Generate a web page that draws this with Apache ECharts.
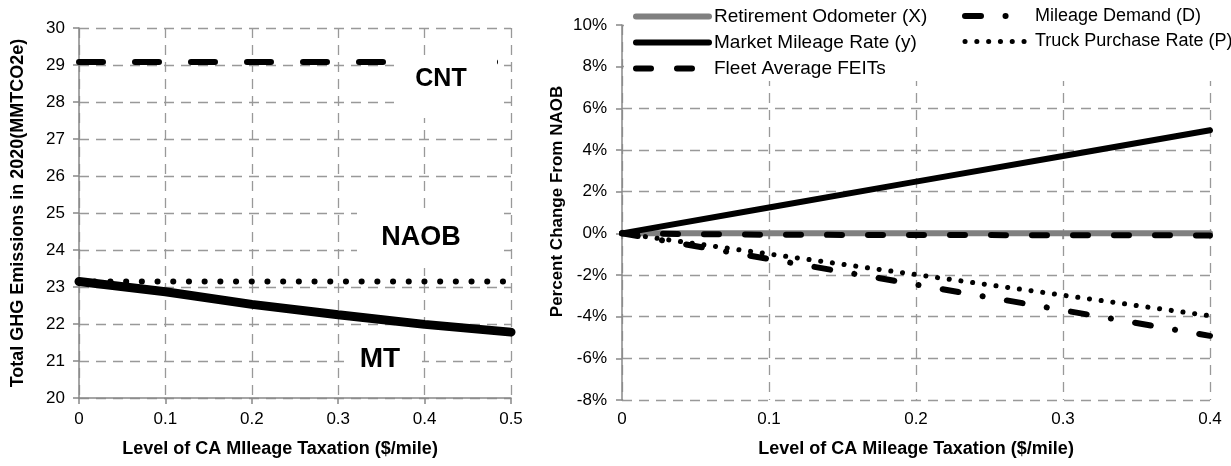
<!DOCTYPE html>
<html>
<head>
<meta charset="utf-8">
<script src="https://cdn.jsdelivr.net/npm/echarts@6/dist/echarts.min.js"></script>
<style>
  html, body { margin: 0; padding: 0; background: #fff; }
  #chart { width: 1231px; height: 466px; }
</style>
</head>
<body>
<div id="chart"></div>
<script>
// ===== Left panel data (MMTCO2e) =====
const taxLeft  = [0, 0.1, 0.2, 0.3, 0.4, 0.5];
const cntGhg   = [29.08, 29.08, 29.08, 29.08, 29.08, 29.08];
const naobGhg  = [23.15, 23.15, 23.15, 23.15, 23.15, 23.15];
const mtGhg    = [23.15, 22.87, 22.53, 22.25, 21.99, 21.78];
const ghgTicks = [20, 21, 22, 23, 24, 25, 26, 27, 28, 29, 30];

// ===== Right panel data (% change from NAOB) =====
const taxRight      = [0, 0.1, 0.2, 0.3, 0.4];
const retirementOdo = [0, 0, 0, 0, 0];
const marketRate    = [0, 1.24, 2.48, 3.71, 4.95];
const fleetFeits    = [0, -0.07, -0.08, -0.09, -0.1];
const mileageDemand = [0, -1.23, -2.46, -3.69, -4.92];
const truckPurchase = [0, -0.99, -1.98, -2.97, -3.96];
const pctTicks      = [-8, -6, -4, -2, 0, 2, 4, 6, 8, 10];

const FONT = 'Liberation Sans, Arial, sans-serif';
const pairs = (xs, ys) => xs.map((x, i) => [x, ys[i]]);

const axisLine  = { lineStyle: { color: '#888', width: 1.5 } };
const axisTick  = { length: 6, lineStyle: { color: '#888', width: 1.5 } };
const splitLine = { show: true, lineStyle: { color: '#999', width: 1.3, type: [10, 7] } };

const chart = echarts.init(document.getElementById('chart'));

// line series helper
function line(name, xi, yi, xs, ys, color, width, dash) {
  return {
    name, type: 'line', xAxisIndex: xi, yAxisIndex: yi,
    data: pairs(xs, ys), symbol: 'none', silent: true,
    itemStyle: { color },
    lineStyle: { color, width, type: dash || 'solid', cap: 'round' }
  };
}

// legend helper (line icon only, no symbol)
function legendBox(left, itemWidth, fontSize, itemGap, names) {
  return {
    left, top: 7, orient: 'vertical', itemGap, itemWidth, itemHeight: 14,
    padding: 0,
    textStyle: { fontSize, lineHeight: 18, color: '#000', fontFamily: FONT },
    itemStyle: { opacity: 0 },
    lineStyle: { width: 'inherit' },
    data: names
  };
}

const option = {
  animation: false,
  backgroundColor: '#fff',
  textStyle: { fontFamily: FONT },
  grid: [
    { left: 79, top: 28, width: 432, height: 370 },
    { left: 622, top: 25, width: 588, height: 375 }
  ],
  xAxis: [
    {
      type: 'value', gridIndex: 0,
      min: taxLeft[0], max: taxLeft[taxLeft.length - 1], interval: 0.1,
      name: 'Level of CA MIleage Taxation ($/mile)', nameLocation: 'middle', nameGap: 42,
      nameTextStyle: { fontSize: 18, fontWeight: 'bold', color: '#000', padding: [0, 30, 0, 0] },
      axisLine, axisTick, splitLine,
      axisLabel: { fontSize: 17, color: '#000', margin: 13 }
    },
    {
      type: 'value', gridIndex: 1,
      min: taxRight[0], max: taxRight[taxRight.length - 1], interval: 0.1,
      name: 'Level of CA Mileage Taxation ($/mile)', nameLocation: 'middle', nameGap: 40,
      nameTextStyle: { fontSize: 18, fontWeight: 'bold', color: '#000' },
      axisLine, axisTick, splitLine,
      axisLabel: { fontSize: 17, color: '#000', margin: 11 }
    }
  ],
  yAxis: [
    {
      type: 'value', gridIndex: 0,
      min: ghgTicks[0], max: ghgTicks[ghgTicks.length - 1], interval: ghgTicks[1] - ghgTicks[0],
      name: 'Total GHG Emissions in 2020(MMTCO2e)', nameLocation: 'middle', nameGap: 52,
      nameTextStyle: { fontSize: 18, fontWeight: 'bold', color: '#000' },
      axisLine: { show: true, ...axisLine }, axisTick: { show: true, ...axisTick }, splitLine,
      axisLabel: { fontSize: 17, color: '#000', margin: 14 }
    },
    {
      type: 'value', gridIndex: 1,
      min: pctTicks[0], max: pctTicks[pctTicks.length - 1], interval: pctTicks[1] - pctTicks[0],
      name: 'Percent Change From NAOB', nameLocation: 'middle', nameGap: 56,
      nameTextStyle: { fontSize: 17, fontWeight: 'bold', color: '#000', padding: [0, 0, 0, 22] },
      axisLine: { show: true, ...axisLine }, axisTick: { show: true, ...axisTick }, splitLine,
      axisLabel: { fontSize: 17, color: '#000', margin: 15, formatter: v => v + '%' }
    }
  ],
  legend: [
    legendBox(633, 73, 19, 7, ['Retirement Odometer (X)', 'Market Mileage Rate (y)', 'Fleet Average FEITs']),
    legendBox(962, 65, 18, 7.5, ['Mileage Demand (D)', 'Truck Purchase Rate (P)'])
  ],
  series: [
    // left panel
    line('CNT',  0, 0, taxLeft, cntGhg,  '#000', 6, [24, 32]),
    line('NAOB', 0, 0, taxLeft, naobGhg, '#000', 6, [0.1, 15.6]),
    line('MT',   0, 0, taxLeft, mtGhg,   '#000', 9),
    // right panel
    line('Retirement Odometer (X)', 1, 1, taxRight, retirementOdo, '#808080', 6),
    line('Fleet Average FEITs',     1, 1, taxRight, fleetFeits,    '#000', 6, [15, 26]),
    line('Truck Purchase Rate (P)', 1, 1, taxRight, truckPurchase, '#000', 5, [0.1, 11.7]),
    line('Mileage Demand (D)',      1, 1, taxRight, mileageDemand, '#000', 6, [16, 24.5, 0.1, 24.5]),
    line('Market Mileage Rate (y)', 1, 1, taxRight, marketRate,    '#000', 6)
  ],
  graphic: [
    // white box behind the right legend (hides top grid lines)
    { type: 'rect', z: 3, silent: true, shape: { x: 624, y: 0, width: 607, height: 81 }, style: { fill: '#fff' } },
    // scenario labels on the left panel
    { type: 'rect', z: 10, silent: true, shape: { x: 394, y: 58, width: 103, height: 60 }, style: { fill: '#fff' } },
    { type: 'text', z: 11, silent: true, x: 441, y: 79,
      style: { text: 'CNT', font: 'bold 25px ' + FONT, fill: '#000', align: 'center', verticalAlign: 'middle' } },
    { type: 'rect', z: 10, silent: true, shape: { x: 357, y: 209, width: 140, height: 59 }, style: { fill: '#fff' } },
    { type: 'text', z: 11, silent: true, x: 421, y: 238,
      style: { text: 'NAOB', font: 'bold 27px ' + FONT, fill: '#000', align: 'center', verticalAlign: 'middle' } },
    { type: 'rect', z: 10, silent: true, shape: { x: 347, y: 333, width: 75, height: 52 }, style: { fill: '#fff' } },
    { type: 'text', z: 11, silent: true, x: 380, y: 359,
      style: { text: 'MT', font: 'bold 28px ' + FONT, fill: '#000', align: 'center', verticalAlign: 'middle' } }
  ]
};

chart.setOption(option);
console.log('[chart] rendered');
</script>
</body>
</html>
